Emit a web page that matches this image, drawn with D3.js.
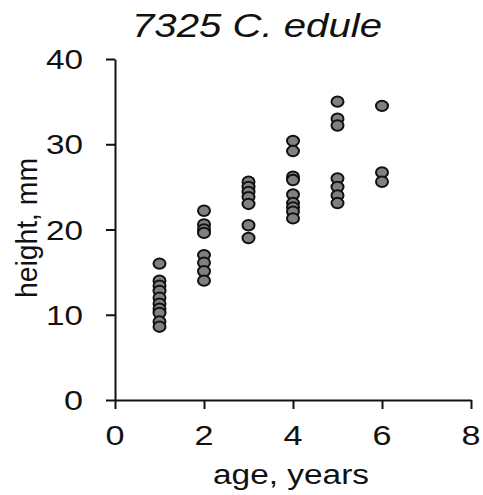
<!DOCTYPE html>
<html>
<head>
<meta charset="utf-8">
<script src="https://cdn.jsdelivr.net/npm/d3@7"></script>
<style>
  body { margin: 0; background: #fff; }
  text { font-family: "Liberation Sans", Arial, sans-serif; fill: #111; }
</style>
</head>
<body>
<svg id="chart" width="483" height="495"></svg>
<script>
// values: one list of heights per age class
var ages = [1, 2, 3, 4, 5, 6];
var heights1 = [16, 14, 13.4, 12.8, 12, 11.3, 10.7, 10.2, 9.2, 8.6];
var heights2 = [22.2, 20.6, 20.0, 19.6, 17.0, 16.1, 15.1, 14.0];
var heights3 = [25.6, 25.0, 24.4, 23.8, 23.0, 20.5, 19.0];
var heights4 = [30.4, 29.2, 26.2, 25.8, 24.1, 23.1, 22.6, 22.1, 21.3];
var heights5 = [35, 33, 32.2, 26, 25, 24, 23.1];
var heights6 = [34.5, 26.7, 25.6];
var xTicks = [0, 2, 4, 6, 8];
var yTicks = [0, 10, 20, 30, 40];

var allHeights = [heights1, heights2, heights3, heights4, heights5, heights6];
var points = [];
for (var i = 0; i < ages.length; i++) {
    allHeights[i].forEach(function (h) {
        points.push({age: ages[i], height: h});
    });
}

var svg = d3.select("#chart");

var x = d3.scaleLinear().domain([0, 8]).range([115, 471]);
var y = d3.scaleLinear().domain([0, 40]).range([400, 59]);

// axes without labels, ticks poke out past the crossing at 0
svg.append("g")
    .attr("transform", "translate(0," + y(0) + ")")
    .call(d3.axisBottom(x).tickValues(xTicks).tickSize(9).tickSizeOuter(0).tickFormat(""));
svg.append("g")
    .attr("transform", "translate(" + x(0) + ",0)")
    .call(d3.axisLeft(y).tickValues(yTicks).tickSize(9).tickSizeOuter(0).tickFormat(""));

svg.selectAll(".domain, .tick line")
    .attr("stroke", "#111")
    .attr("stroke-width", 2);

// tick labels (the original is a bit stretched sideways)
svg.selectAll(".xlab")
    .data(xTicks)
    .enter().append("text")
    .attr("class", "xlab")
    .attr("x", function (d) { return x(d); })
    .attr("y", 445)
    .attr("text-anchor", "middle")
    .attr("font-size", 28)
    .attr("textLength", 19)
    .attr("lengthAdjust", "spacingAndGlyphs")
    .text(function (d) { return d; });

svg.selectAll(".ylab")
    .data(yTicks)
    .enter().append("text")
    .attr("class", "ylab")
    .attr("x", 83)
    .attr("y", function (d) { return y(d) + 10; })
    .attr("text-anchor", "end")
    .attr("font-size", 28)
    .attr("textLength", function (d) { return d === 0 ? 19 : 37; })
    .attr("lengthAdjust", "spacingAndGlyphs")
    .text(function (d) { return d; });

// titles
svg.append("text")
    .attr("x", 257)
    .attr("y", 37)
    .attr("text-anchor", "middle")
    .attr("font-size", 34)
    .attr("font-style", "italic")
    .attr("textLength", 250)
    .attr("lengthAdjust", "spacingAndGlyphs")
    .text("7325 C. edule");

svg.append("text")
    .attr("x", 291)
    .attr("y", 484)
    .attr("text-anchor", "middle")
    .attr("font-size", 27)
    .attr("textLength", 156)
    .attr("lengthAdjust", "spacingAndGlyphs")
    .text("age, years");

svg.append("text")
    .attr("transform", "translate(37,228) scale(1.08,1) rotate(-90)")
    .attr("text-anchor", "middle")
    .attr("font-size", 27)
    .attr("textLength", 140)
    .attr("lengthAdjust", "spacingAndGlyphs")
    .text("height, mm");

// points, slightly wider than tall like the source
svg.selectAll("ellipse")
    .data(points)
    .enter().append("ellipse")
    .attr("cx", function (d) { return x(d.age); })
    .attr("cy", function (d) { return y(d.height); })
    .attr("rx", 6)
    .attr("ry", 5.2)
    .attr("fill", "#808080")
    .attr("stroke", "#111")
    .attr("stroke-width", 2);
</script>
</body>
</html>
